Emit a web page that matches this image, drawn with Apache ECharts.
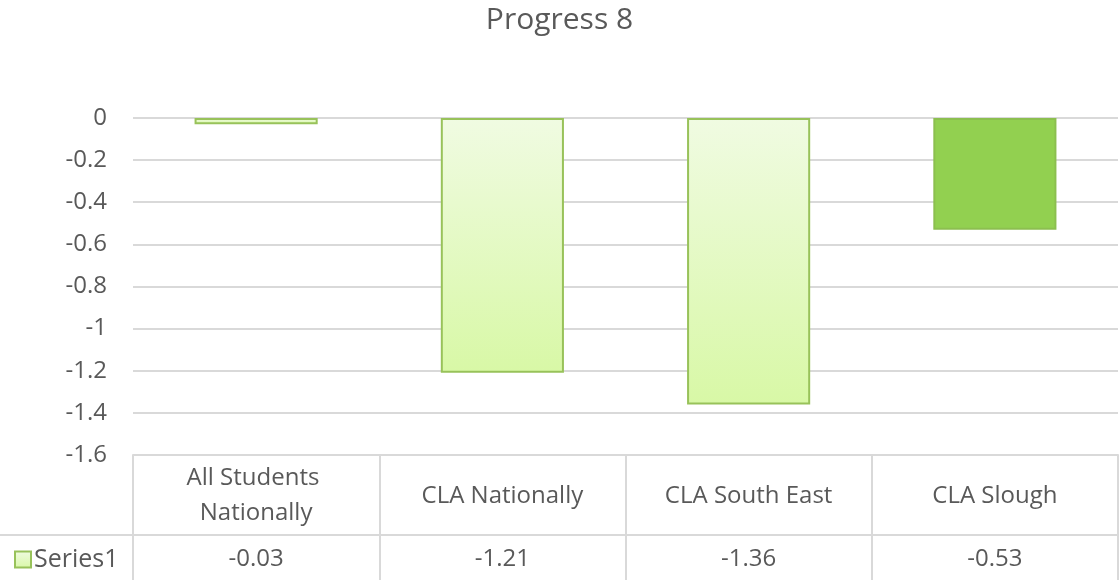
<!DOCTYPE html>
<html>
<head>
<meta charset="utf-8">
<script src="https://cdn.jsdelivr.net/npm/echarts@6/dist/echarts.min.js"></script>
<style>
  html, body { margin: 0; padding: 0; background: #fff; }
  #chart { width: 1119px; height: 580px; }
</style>
</head>
<body>
<div id="chart"></div>
<script>
var categories = ['All Students Nationally', 'CLA Nationally', 'CLA South East', 'CLA Slough'];
var progress8 = [-0.03, -1.21, -1.36, -0.53];
var seriesName = 'Series1';

var font = '"Open Sans", sans-serif';
var grey = '#595959';

var chart = echarts.init(document.getElementById('chart'));

// light green fade like the Excel style, last bar (Slough) highlighted
var barData = progress8.map(function (v, i) {
    if (i === progress8.length - 1) {
        return { value: v, itemStyle: { color: '#92D050', borderColor: '#8CBF4F' } };
    }
    return v;
});

chart.setOption({
    animation: false,
    title: {
        text: 'Progress 8',
        left: 'center',
        top: 0,
        textStyle: { fontFamily: font, fontSize: 30, fontWeight: 'normal', color: grey }
    },
    legend: {
        data: [seriesName],
        left: 9,
        top: 542,
        icon: 'rect',
        itemWidth: 16,
        itemHeight: 16,
        itemGap: 4,
        textStyle: { fontFamily: font, fontSize: 25, color: grey, padding: [0, 0, 0, -2] }
    },
    grid: { left: 133, right: 1, top: 118, bottom: 125 },
    xAxis: [{
        type: 'category',
        data: categories,
        position: 'bottom',
        axisLine: { show: true, onZero: false, lineStyle: { color: '#d9d9d9', width: 2 } },
        axisTick: { show: true, interval: 0, length: 125, lineStyle: { color: '#d9d9d9', width: 2 } },
        axisLabel: {
            interval: 0,
            margin: 41,
            verticalAlign: 'middle',
            width: 210,
            overflow: 'break',
            lineHeight: 35,
            fontFamily: font,
            fontSize: 24,
            color: grey
        }
    }, {
        type: 'category',
        data: progress8.map(function (v) { return v.toFixed(2); }),
        position: 'bottom',
        offset: 80,
        axisLine: { show: false },
        axisTick: { show: false },
        axisLabel: {
            interval: 0,
            margin: 24,
            verticalAlign: 'middle',
            fontFamily: font,
            fontSize: 24,
            color: grey
        }
    }],
    yAxis: {
        type: 'value',
        min: -1.6,
        max: 0,
        interval: 0.2,
        axisLine: { show: false },
        axisTick: { show: false },
        splitLine: { lineStyle: { color: '#d9d9d9', width: 2 } },
        axisLabel: { margin: 26, fontFamily: font, fontSize: 24, color: grey }
    },
    graphic: [{
        type: 'line',
        shape: { x1: 0, y1: 535, x2: 1119, y2: 535 },
        style: { stroke: '#d9d9d9', lineWidth: 2 }
    }],
    series: [{
        name: seriesName,
        type: 'bar',
        xAxisIndex: 0,
        barWidth: '50%',
        data: barData,
        itemStyle: {
            color: new echarts.graphic.LinearGradient(0, 0, 0, 1, [
                { offset: 0, color: '#F0FBE2' },
                { offset: 1, color: '#D8F8A6' }
            ]),
            borderColor: '#98C25A',
            borderWidth: 2
        }
    }]
});
</script>
</body>
</html>
